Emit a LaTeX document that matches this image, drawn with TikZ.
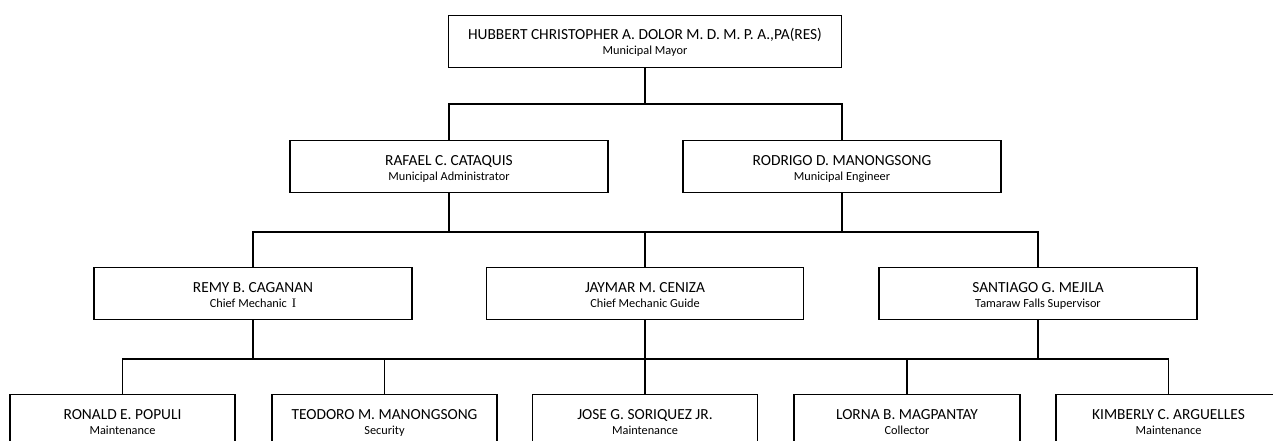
\documentclass[tikz,border=0pt]{standalone}
\usepackage{fontspec}
\setmainfont{Carlito}
\newfontfamily\romanfont{Liberation Serif}
\tikzset{
  orgbox/.style={draw=black, line width=1.3pt, fill=white, inner sep=0pt, minimum height=52pt},
  nametext/.style={font=\fontsize{15.4}{16}\selectfont, inner sep=0pt, anchor=base},
  roletext/.style={font=\fontsize{12.3}{14}\selectfont, inner sep=0pt, anchor=base},
  link/.style={draw=black, line width=1.3pt}
}
% \orgunit{id}{cx}{top}{width}{name}{role}
\newcommand{\orgunit}[6]{%
  \node[orgbox, minimum width=#4pt, anchor=north] (#1) at (#2,#3) {};
  \node[nametext] (#1-n) at ([yshift=-25pt]#1.north) {#5};
  \node[roletext] (#1-r) at ([yshift=-40pt]#1.north) {#6};
}
\begin{document}
\begin{tikzpicture}[x=1pt, y=-1pt]
\useasboundingbox (0,0) rectangle (1273,441);
\fill[white] (0,0) rectangle (1273,441);
\clip (0,0) rectangle (1273,441);
\coordinate (b1) at (0,104);
\coordinate (b2) at (0,232);
\coordinate (b3) at (0,359);
\orgunit{mayor}{645}{15}{393}{HUBBERT CHRISTOPHER A. DOLOR M. D. M. P. A.,PA(RES)}{Municipal Mayor}
\orgunit{admin}{449}{140}{318}{RAFAEL C. CATAQUIS}{Municipal Administrator}
\orgunit{eng}{842}{140}{318}{RODRIGO D. MANONGSONG}{Municipal Engineer}
\orgunit{remy}{253}{267}{318}{REMY B. CAGANAN}{Chief Mechanic \,{\romanfont\fontsize{13}{14}\selectfont I}}
\orgunit{jaymar}{645}{267}{317}{JAYMAR M. CENIZA}{Chief Mechanic Guide}
\orgunit{santiago}{1038}{267}{318}{SANTIAGO G. MEJILA}{Tamaraw Falls Supervisor}
\orgunit{ronald}{122.5}{394}{225}{RONALD E. POPULI}{Maintenance}
\orgunit{teodoro}{384.5}{394}{225}{TEODORO M. MANONGSONG}{Security}
\orgunit{jose}{645}{394}{225}{JOSE G. SORIQUEZ JR.}{Maintenance}
\orgunit{lorna}{907}{394}{226}{LORNA B. MAGPANTAY}{Collector}
\orgunit{kimberly}{1168.5}{394}{225}{KIMBERLY C. ARGUELLES}{Maintenance}
% level 1 -> 2
\draw[link] (mayor.south) -- (mayor.south |- b1);
\draw[link] (admin.north) -- (admin.north |- b1) -- (eng.north |- b1) -- (eng.north);
% level 2 -> 3
\draw[link] (admin.south) -- (admin.south |- b2);
\draw[link] (eng.south) -- (eng.south |- b2);
\draw[link] (remy.north) -- (remy.north |- b2) -- (santiago.north |- b2) -- (santiago.north);
\draw[link] (jaymar.north) -- (jaymar.north |- b2);
% level 3 -> 4
\draw[link] (remy.south) -- (remy.south |- b3);
\draw[link] (santiago.south) -- (santiago.south |- b3);
\draw[link] (jaymar.south) -- (jose.north);
\draw[link] (ronald.north) -- (ronald.north |- b3) -- (kimberly.north |- b3) -- (kimberly.north);
\draw[link] (teodoro.north) -- (teodoro.north |- b3);
\draw[link] (lorna.north) -- (lorna.north |- b3);
\end{tikzpicture}
\end{document}
